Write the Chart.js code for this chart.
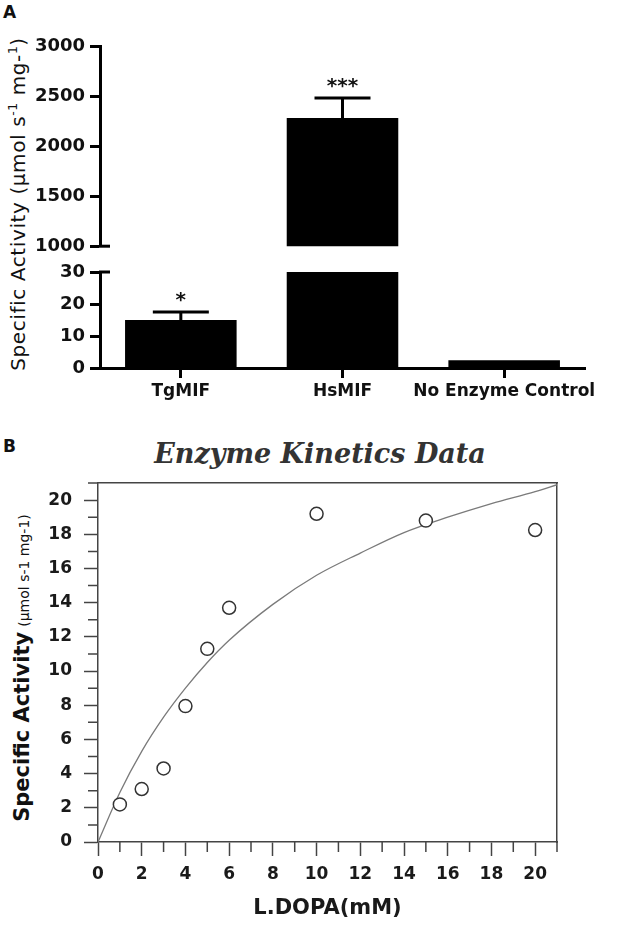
<!DOCTYPE html>
<html lang="en">
<head>
<meta charset="UTF-8">
<title>Specific Activity / Enzyme Kinetics Data</title>
<script src="https://cdn.jsdelivr.net/npm/chart.js"></script>
<style>
  body { margin: 0; background: #fff; }
  #wrap { position: relative; width: 633px; height: 928px; font-family: 'DejaVu Sans', sans-serif; color: #111; overflow: hidden; }
  canvas { position: absolute; left: 0; }
  .panel { position: absolute; left: 3px; font: bold 17px 'DejaVu Sans', sans-serif; }
  .ytitle { position: absolute; white-space: nowrap; transform: translate(-50%, -50%) rotate(-90deg); }
  .ytitle sup { font-size: 0.62em; vertical-align: super; line-height: 0; }
  #bTitle { position: absolute; left: 320px; top: 453px; transform: translate(-50%, -50%); white-space: nowrap;
            font: italic bold 27px 'DejaVu Serif', serif; color: #333; }
</style>
</head>
<body>
<div id="wrap">
  <div class="panel" style="top:2px">A</div>
  <div class="panel" style="top:436px">B</div>
  <div class="ytitle" style="left:18px; top:204px; font-size:20px; letter-spacing:0.6px;">Specific Activity (µmol s<sup>-1</sup> mg-<sup>1</sup>)</div>
  <div class="ytitle" style="left:22px; top:668px;"><b style="font-size:21px">Specific Activity</b> <span style="font-size:14px">(µmol s-1 mg-1)</span></div>
  <div id="bTitle">Enzyme Kinetics Data</div>
  <canvas id="aTop" width="633" height="262" style="top:0"></canvas>
  <canvas id="aBottom" width="633" height="150" style="top:255px"></canvas>
  <canvas id="bChart" width="633" height="508" style="top:420px"></canvas>
</div>
<script>
// Panel A: specific activity per enzyme
const categories = ['TgMIF', 'HsMIF', 'No Enzyme Control'];
const activity = [15, 2280, 2.4];
const errorUpper = [17.5, 2480, null];
const significance = ['*', '***', ''];
const topTicks = [1000, 3000, 500];   // min, max, step (upper segment)
const bottomTicks = [0, 30, 10];      // min, max, step (lower segment)

// Panel B: L-DOPA kinetics
const ldopa = [1, 2, 3, 4, 5, 6, 10, 15, 20];
const rate = [2.2, 3.1, 4.3, 7.95, 11.3, 13.7, 19.2, 18.8, 18.25];
const fitX = [0, 1, 2, 3, 4, 5, 6, 8, 10, 12, 14, 16, 18, 20, 21];
const fitY = [0, 2.9, 5.3, 7.3, 9.0, 10.5, 11.8, 13.9, 15.6, 16.9, 18.1, 19.0, 19.8, 20.5, 20.9];

Chart.defaults.font.family = "'DejaVu Sans', sans-serif";
Chart.defaults.color = '#111';

const tickFont = { size: 18, weight: 'bold' };

// error bars + significance stars, only where they fall inside this segment
const errorBars = {
  id: 'errorBars',
  afterDatasetsDraw(chart) {
    const { ctx, scales: { x, y } } = chart;
    ctx.save();
    ctx.strokeStyle = '#000';
    ctx.lineWidth = 3;
    ctx.fillStyle = '#111';
    ctx.font = "bold 20px 'DejaVu Sans'";
    ctx.textAlign = 'center';
    ctx.textBaseline = 'alphabetic';
    activity.forEach((v, i) => {
      const hi = errorUpper[i];
      if (hi == null || hi < y.min || hi > y.max) return;
      const cx = x.getPixelForValue(i);
      const top = y.getPixelForValue(hi);
      const base = y.getPixelForValue(Math.min(v, y.max));
      ctx.beginPath();
      ctx.moveTo(cx, base);
      ctx.lineTo(cx, top);
      ctx.moveTo(cx - 28, top);
      ctx.lineTo(cx + 28, top);
      ctx.stroke();
      ctx.fillText(significance[i], cx, top - 6);
    });
    ctx.restore();
  }
};

// short tick to the right of the axis marking the break
const axisBreak = {
  id: 'axisBreak',
  afterDraw(chart, args, opts) {
    const { ctx, scales: { y } } = chart;
    const py = y.getPixelForValue(opts.value);
    ctx.save();
    ctx.strokeStyle = '#000';
    ctx.lineWidth = 3;
    ctx.beginPath();
    ctx.moveTo(y.right - 1, py);
    ctx.lineTo(y.right + 10, py);
    ctx.stroke();
    ctx.restore();
  }
};

function barChart(id, range, showX, breakValue, padding) {
  return new Chart(document.getElementById(id), {
    type: 'bar',
    data: {
      labels: categories,
      datasets: [{
        data: activity,
        backgroundColor: '#000',
        borderWidth: 0,
        barPercentage: 0.69,
        categoryPercentage: 1,
        clip: 0
      }]
    },
    options: {
      responsive: false,
      animation: false,
      layout: { padding },
      plugins: { legend: { display: false }, tooltip: { enabled: false }, axisBreak: { value: breakValue } },
      scales: {
        x: {
          display: showX,
          offset: true,
          grid: { drawOnChartArea: false, tickLength: 10, tickWidth: 3, tickColor: '#000', offset: false },
          border: { display: true, width: 3, color: '#000' },
          ticks: { font: { size: 17, weight: 'bold' }, padding: 3, maxRotation: 0, autoSkip: false },
          afterFit: s => { s.height = showX ? 37 : 0; }
        },
        y: {
          min: range[0],
          max: range[1],
          ticks: { stepSize: range[2], font: tickFont, padding: 5, callback: v => String(v) },
          grid: { drawOnChartArea: false, tickLength: 10, tickWidth: 3, tickColor: '#000' },
          border: { display: true, width: 3, color: '#000' },
          afterFit: s => { s.width = 100; }
        }
      }
    },
    plugins: [errorBars, axisBreak]
  });
}

barChart('aTop', topTicks, false, topTicks[0], { left: 0, top: 46, right: 48, bottom: 15 });
barChart('aBottom', bottomTicks, true, bottomTicks[1], { left: 0, top: 17, right: 48, bottom: 0 });

// minor ticks at odd values for panel B
const minorTicks = {
  id: 'minorTicks',
  afterDraw(chart) {
    const { ctx, chartArea, scales: { x, y } } = chart;
    ctx.save();
    ctx.strokeStyle = '#444';
    ctx.lineWidth = 1.5;
    ctx.beginPath();
    for (let v = 1; v <= x.max; v += 2) {
      const px = x.getPixelForValue(v);
      ctx.moveTo(px, chartArea.bottom);
      ctx.lineTo(px, chartArea.bottom + 10);
    }
    for (let v = 1; v <= y.max; v += 2) {
      const py = y.getPixelForValue(v);
      ctx.moveTo(chartArea.left, py);
      ctx.lineTo(chartArea.left - 10, py);
    }
    ctx.stroke();
    ctx.restore();
  }
};

const frameAxis = {
  display: true,
  type: 'linear',
  grid: { display: false, drawTicks: false },
  ticks: { display: false },
  border: { display: true, width: 1.5, color: '#444' }
};

new Chart(document.getElementById('bChart'), {
  type: 'scatter',
  data: {
    datasets: [{
      label: 'Measured',
      data: ldopa.map((v, i) => ({ x: v, y: rate[i] })),
      pointRadius: 6.5,
      pointBackgroundColor: '#fff',
      pointBorderColor: '#333',
      pointBorderWidth: 1.5
    }, {
      label: 'Fit',
      data: fitX.map((v, i) => ({ x: v, y: fitY[i] })),
      showLine: true,
      borderColor: '#7a7a7a',
      borderWidth: 1.3,
      pointRadius: 0,
      cubicInterpolationMode: 'monotone'
    }]
  },
  options: {
    responsive: false,
    animation: false,
    layout: { padding: { left: 0, right: 76, top: 63, bottom: 0 } },
    plugins: {
      legend: { display: false },
      tooltip: { enabled: false }
    },
    scales: {
      x: {
        min: 0,
        max: 21,
        ticks: { stepSize: 2, includeBounds: false, font: { size: 17, weight: 'bold' }, padding: 8, color: '#1a1a1a' },
        grid: { drawOnChartArea: false, tickLength: 14, tickWidth: 1.5, tickColor: '#444' },
        border: { display: true, width: 1.5, color: '#444' },
        title: { display: true, text: 'L.DOPA(mM)', font: { size: 21, weight: 'bold' }, color: '#1a1a1a', padding: { top: 0, bottom: 7 } },
        afterFit: s => { s.height = 86; }
      },
      y: {
        min: 0,
        max: 21,
        ticks: { stepSize: 2, includeBounds: false, font: { size: 17, weight: 'bold' }, padding: 12, color: '#1a1a1a' },
        grid: { drawOnChartArea: false, tickLength: 14, tickWidth: 1.5, tickColor: '#444' },
        border: { display: true, width: 1.5, color: '#444' },
        afterFit: s => { s.width = 98; }
      },
      xTop: Object.assign({ position: 'top', afterFit: s => { s.height = 0; } }, frameAxis),
      yRight: Object.assign({ position: 'right', afterFit: s => { s.width = 0; } }, frameAxis)
    }
  },
  plugins: [minorTicks]
});
</script>
</body>
</html>
